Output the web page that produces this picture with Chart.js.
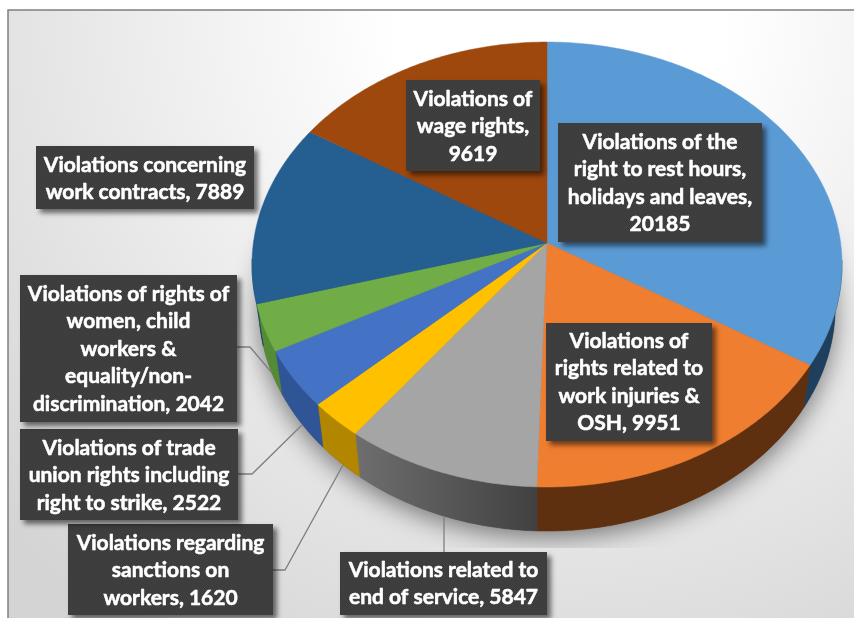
<!DOCTYPE html>
<html>
<head>
<meta charset="utf-8">
<style>html,body{margin:0;padding:0;background:#fff;overflow:hidden}canvas{display:block}</style>
<script src="https://cdn.jsdelivr.net/npm/chart.js@4"></script>
</head>
<body>
<div style="width:854px;height:618px;position:relative"><canvas id="c" width="854" height="618"></canvas></div>
<script>
const categories = [
  "Violations of the\nright to rest hours,\nholidays and leaves,\n",
  "Violations of\nrights related to\nwork injuries &\nOSH, ",
  "Violations related to\nend of service, ",
  "Violations regarding\nsanctions on\nworkers, ",
  "Violations of trade\nunion rights including\nright to strike, ",
  "Violations of rights of\nwomen, child\nworkers &\nequality/non-\ndiscrimination, ",
  "Violations concerning\nwork contracts, ",
  "Violations of\nwage rights,\n"
];
const values = [20185, 9951, 5847, 1620, 2522, 2042, 7889, 9619];
const topColors = ["#5B9BD5","#F07E30","#A5A5A5","#FFC000","#4472C4","#70AD47","#255E91","#9E480E"];
const sideColors = ["#1F3F5E","#5F3010","#555555","#B38600","#2F5597","#558B35","#1A4266","#6E320A"];

// label boxes [left, top, right, bottom, first line centre]
const boxes = [
  [558,123,762,242,142],
  [546,323,712,441,341],
  [340,552,547,615,570],
  [68,524,273,615,543],
  [20,429,238,520,448],
  [20,275,237,422,294],
  [36,146,254,209,165],
  [406,80,540,171,99]
];
const leaders = [
  [[237,347],[250,347],[272,373]],
  [[238,474],[252,474],[302,425]],
  [[273,570],[285,570],[343,465]],
  [[444,552],[444,516]]
];

// perspective of the tilted disc
const P = {cx:547, cy:243, R:293.6, A:220.4, k:0.0967};
function project(u,v){
  const d = 1 - P.k*v;
  return [P.cx + P.R*u/d, P.cy + P.A*v/d];
}
function rimLow(p){ return [P.cx + (p[0]-P.cx)*0.977, p[1] + 42 + 2*Math.max(0,(p[1]-365)/122)]; }

function arcPoints(arc){
  const pts=[]; const n=Math.max(8,Math.ceil((arc.endAngle-arc.startAngle)*90));
  for(let i=0;i<=n;i++){
    const a=arc.startAngle+(arc.endAngle-arc.startAngle)*i/n;
    pts.push(project(Math.cos(a),Math.sin(a)));
  }
  return pts;
}
function trace(ctx,pts){ pts.forEach((p,i)=> i?ctx.lineTo(p[0],p[1]):ctx.moveTo(p[0],p[1])); }

const disc3d = {
  id:'disc3d',
  beforeDraw(chart){
    const ctx=chart.ctx;
    ctx.save();
    ctx.fillStyle='#fff'; ctx.fillRect(0,0,854,618);
    const g=ctx.createRadialGradient(560,10,60,560,10,760);
    g.addColorStop(0,'#ffffff'); g.addColorStop(0.15,'#ffffff'); g.addColorStop(1,'#d4d4d4');
    ctx.fillStyle=g; ctx.fillRect(8,10,846,608);
    ctx.strokeStyle='#7f7f7f'; ctx.lineWidth=1.5;
    ctx.beginPath(); ctx.moveTo(8,618); ctx.lineTo(8,10); ctx.lineTo(854,10); ctx.stroke();
    ctx.restore();
  },
  beforeDatasetsDraw(chart){
    const ctx=chart.ctx, arcs=chart.getDatasetMeta(0).data;
    const all=[];
    arcs.forEach(a=>{ arcPoints(a).forEach(p=>all.push(p)); });
    ctx.save();
    ctx.beginPath(); ctx.rect(9,11,845,537); ctx.clip();
    ctx.shadowColor='rgba(0,0,0,0.5)'; ctx.shadowBlur=26; ctx.shadowOffsetX=0; ctx.shadowOffsetY=6;
    ctx.fillStyle='#555';
    ctx.beginPath(); trace(ctx,all.map(rimLow)); ctx.closePath(); ctx.fill();
    ctx.restore();
    arcs.forEach((a,i)=>{
      const pts=arcPoints(a).filter(p=>p[1]>=P.cy+15);
      if(pts.length<2) return;
      ctx.save();
      let fill=sideColors[i];
      if(i===2){
        const g=ctx.createLinearGradient(357,0,537,0);
        g.addColorStop(0,'#6E6E6E'); g.addColorStop(1,'#414141'); fill=g;
      }
      ctx.fillStyle=fill; ctx.strokeStyle=fill; ctx.lineWidth=0.6;
      ctx.beginPath(); trace(ctx,pts); pts.slice().reverse().map(rimLow).forEach(p=>ctx.lineTo(p[0],p[1])); ctx.closePath();
      ctx.fill(); ctx.stroke();
      ctx.restore();
    });
    arcs.forEach((a,i)=>{
      ctx.save();
      ctx.fillStyle=topColors[i]; ctx.strokeStyle=topColors[i]; ctx.lineWidth=0.5;
      ctx.beginPath(); ctx.moveTo(P.cx,P.cy); arcPoints(a).forEach(p=>ctx.lineTo(p[0],p[1])); ctx.closePath();
      ctx.fill(); ctx.stroke();
      ctx.restore();
    });
    return false;
  },
  afterDraw(chart){
    const ctx=chart.ctx;
    ctx.save();
    ctx.strokeStyle='#7f7f7f'; ctx.lineWidth=1.3;
    leaders.forEach(l=>{ ctx.beginPath(); trace(ctx,l); ctx.stroke(); });
    const pc=document.createElement('canvas'); pc.width=2; pc.height=2;
    const px=pc.getContext('2d');
    px.fillStyle='#414141'; px.fillRect(0,0,2,2);
    px.fillStyle='#3A3A3A'; px.fillRect(0,0,1,1); px.fillRect(1,1,1,1);
    const pat=ctx.createPattern(pc,'repeat');
    boxes.forEach((b,i)=>{
      ctx.save();
      ctx.shadowColor='rgba(0,0,0,0.55)'; ctx.shadowBlur=5; ctx.shadowOffsetX=4; ctx.shadowOffsetY=4;
      ctx.fillStyle='#3f3f3f'; ctx.fillRect(b[0],b[1],b[2]-b[0],b[3]-b[1]);
      ctx.restore();
      ctx.fillStyle=pat; ctx.fillRect(b[0],b[1],b[2]-b[0],b[3]-b[1]);
      const lines=(categories[i]+values[i]).split('\n');
      ctx.fillStyle='#ffffff'; ctx.strokeStyle='#ffffff'; ctx.lineWidth=0.55; ctx.lineJoin='round';
      ctx.font='bold 21px Lato, sans-serif';
      ctx.textAlign='center'; ctx.textBaseline='middle';
      lines.forEach((t,j)=>{
        const x=(b[0]+b[2])/2, y=b[4]+j*27.5;
        ctx.strokeText(t,x,y); ctx.fillText(t,x,y);
      });
    });
    ctx.restore();
  }
};

new Chart(document.getElementById('c'),{
  type:'pie',
  data:{labels:categories,datasets:[{data:values,backgroundColor:topColors,borderWidth:0}]},
  options:{
    responsive:false,animation:false,
    plugins:{legend:{display:false},tooltip:{enabled:false}}
  },
  plugins:[disc3d]
});
</script>
</body>
</html>
